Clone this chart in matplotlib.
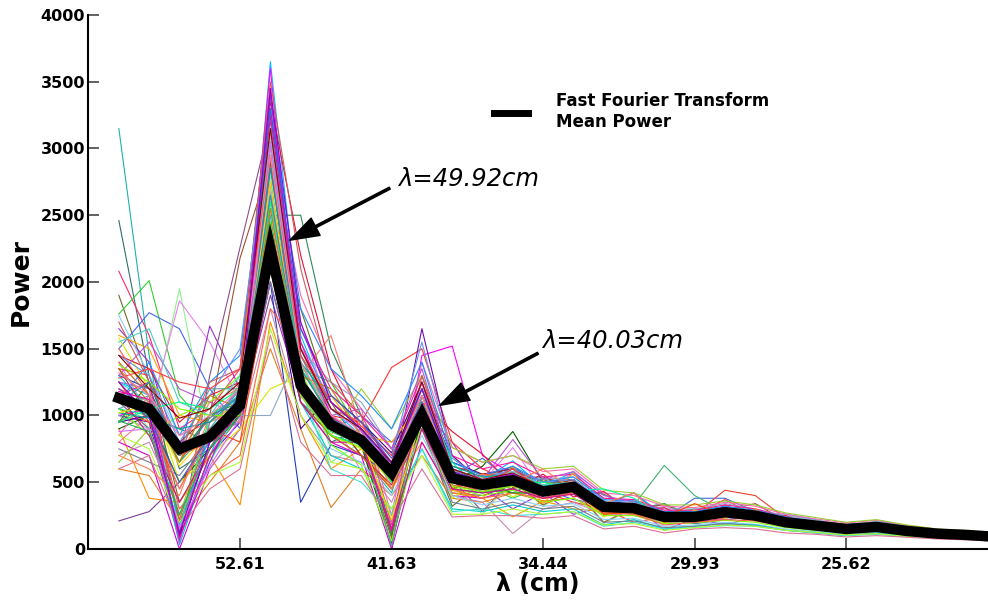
import numpy as np
import matplotlib
matplotlib.use("Agg")
import matplotlib.pyplot as plt
from matplotlib.lines import Line2D

# Wavelength tick labels (cm) placed every fifth frequency bin
tick_bins = [4, 9, 14, 19, 24]
tick_labels = ["52.61", "41.63", "34.44", "29.93", "25.62"]

# Mean FFT power over all recordings
mean_power = [1130, 1050, 750, 840, 1075, 2250, 1225, 930, 815, 570,
              1005, 530, 480, 515, 430, 465, 315, 305, 240, 240,
              275, 250, 200, 175, 150, 165, 135, 115, 105, 90]

# Individual FFT power spectra
s01 = [3150, 1450, 120, 900, 1200, 3300, 1500, 1000, 700, 420, 1150, 600, 420, 560, 400, 480, 300, 330, 250, 230, 300, 260, 210, 180, 150, 170, 140, 110, 100, 85]
s02 = [2460, 1300, 600, 750, 1150, 2900, 1300, 800, 900, 150, 1050, 450, 520, 620, 460, 500, 360, 270, 210, 280, 250, 220, 180, 200, 170, 150, 120, 130, 115, 100]
s03 = [2080, 1600, 900, 1050, 1350, 3450, 1400, 950, 820, 600, 1250, 500, 430, 480, 380, 420, 280, 340, 270, 200, 230, 290, 220, 160, 130, 180, 160, 105, 90, 80]
s04 = [1900, 1250, 350, 700, 1000, 2600, 1800, 1100, 750, 650, 900, 320, 500, 450, 520, 440, 260, 300, 200, 260, 300, 210, 230, 150, 160, 190, 120, 100, 120, 75]
s05 = [1760, 2010, 1150, 900, 1000, 2400, 1350, 1250, 850, 200, 1100, 700, 480, 380, 470, 520, 350, 290, 260, 300, 310, 230, 190, 170, 140, 160, 150, 125, 100, 95]
s06 = [1500, 1770, 1650, 1200, 900, 2100, 1100, 900, 1000, 800, 950, 550, 680, 500, 450, 370, 330, 420, 230, 380, 380, 280, 170, 190, 180, 140, 125, 115, 110, 85]
s07 = [1200, 900, 1950, 800, 1300, 2800, 1250, 650, 800, 250, 1000, 480, 260, 520, 320, 450, 190, 310, 250, 210, 240, 260, 210, 140, 140, 170, 130, 110, 95, 90]
s08 = [1400, 1000, 1860, 1550, 1100, 3100, 1700, 1000, 580, 500, 1200, 560, 500, 760, 430, 570, 410, 280, 320, 250, 260, 270, 190, 180, 150, 200, 145, 120, 100, 80]
s09 = [210, 280, 500, 800, 1000, 1900, 1150, 850, 700, 450, 900, 420, 400, 480, 400, 430, 290, 280, 220, 230, 260, 240, 200, 170, 145, 160, 130, 115, 100, 88]
s10 = [1650, 1400, 700, 1670, 1200, 2700, 1300, 900, 850, 600, 1050, 800, 460, 300, 420, 260, 320, 330, 140, 230, 180, 240, 220, 190, 150, 175, 135, 110, 105, 95]
s11 = [1100, 900, 60, 1300, 2260, 3200, 1450, 1000, 800, 550, 1000, 520, 280, 530, 540, 470, 340, 300, 250, 220, 270, 260, 200, 175, 165, 155, 140, 120, 105, 90]
s12 = [950, 1100, 650, 1000, 2180, 2900, 1250, 950, 780, 80, 1100, 550, 470, 500, 330, 450, 200, 310, 330, 250, 290, 340, 210, 160, 150, 160, 130, 110, 100, 85]
s13 = [1250, 1150, 180, 850, 1050, 3650, 1600, 1050, 850, 600, 1200, 600, 520, 660, 460, 580, 330, 420, 250, 270, 290, 260, 260, 220, 160, 210, 170, 140, 125, 110]
s14 = [1000, 1050, 800, 850, 1150, 3600, 1300, 900, 850, 120, 1450, 1520, 700, 560, 450, 480, 320, 320, 250, 240, 280, 250, 210, 175, 150, 165, 140, 115, 105, 88]
s15 = [900, 380, 350, 700, 330, 1700, 1000, 600, 750, 450, 800, 420, 380, 240, 360, 300, 280, 270, 210, 210, 250, 230, 190, 160, 140, 150, 125, 105, 95, 80]
s16 = [1300, 1200, 700, 900, 1000, 2000, 350, 780, 700, 550, 900, 450, 420, 480, 400, 440, 290, 290, 230, 190, 220, 240, 200, 165, 120, 160, 110, 110, 90, 85]
s17 = [1100, 1000, 900, 800, 1050, 2500, 2500, 1500, 1000, 600, 1000, 500, 450, 420, 530, 460, 410, 300, 340, 240, 270, 250, 200, 175, 150, 165, 135, 115, 105, 90]
s18 = [600, 550, 200, 500, 800, 1500, 900, 310, 600, 400, 700, 380, 350, 420, 360, 380, 270, 260, 200, 210, 240, 220, 180, 155, 135, 150, 120, 100, 95, 80]
s19 = [1350, 1300, 700, 800, 1150, 2200, 1250, 1000, 950, 1360, 1500, 800, 600, 500, 430, 350, 300, 200, 240, 260, 370, 250, 200, 175, 150, 165, 135, 115, 105, 90]
s20 = [800, 700, 0, 600, 900, 2000, 1100, 800, 700, 0, 800, 400, 380, 450, 380, 420, 290, 280, 220, 230, 260, 230, 190, 165, 145, 155, 125, 108, 98, 82]
s21 = [1000, 950, 90, 700, 950, 2300, 1200, 900, 800, 500, 1650, 700, 500, 600, 440, 470, 320, 310, 240, 250, 280, 250, 210, 175, 150, 165, 135, 115, 105, 90]
s22 = [900, 1000, 500, 750, 1000, 2100, 1100, 850, 780, 30, 1000, 500, 620, 880, 500, 520, 330, 300, 240, 240, 270, 250, 200, 170, 150, 165, 135, 115, 105, 90]
s23 = [700, 800, 300, 600, 900, 1800, 1000, 700, 650, 350, 900, 400, 350, 116, 300, 350, 260, 250, 200, 210, 240, 220, 180, 155, 140, 150, 120, 100, 95, 80]
s24 = [1150, 1050, 650, 900, 1050, 2300, 1200, 900, 800, 550, 1000, 520, 470, 500, 430, 470, 320, 330, 626, 400, 280, 260, 200, 175, 150, 165, 135, 115, 105, 90]
s25 = [1050, 950, 750, 850, 1100, 2400, 1250, 950, 820, 580, 1050, 540, 490, 520, 440, 460, 310, 300, 250, 260, 440, 400, 230, 180, 150, 170, 140, 115, 105, 90]
s26 = [1580, 1200, 500, 700, 900, 1200, 1300, 850, 750, 500, 950, 380, 540, 390, 510, 440, 240, 350, 190, 280, 230, 290, 170, 205, 120, 190, 110, 130, 85, 100]
s27 = [1000, 900, 750, 850, 1000, 1000, 1500, 1250, 1100, 750, 1200, 650, 550, 580, 520, 540, 380, 360, 300, 300, 340, 300, 250, 215, 185, 205, 165, 140, 125, 110]
s28 = [1750, 1300, 850, 1000, 1150, 2700, 1350, 750, 650, 400, 850, 400, 330, 380, 320, 340, 220, 230, 170, 180, 200, 185, 150, 130, 110, 125, 100, 85, 78, 65]
s29 = [1200, 1100, 700, 1100, 1200, 2600, 1300, 1600, 900, 500, 1050, 600, 420, 610, 380, 520, 260, 350, 280, 200, 300, 220, 230, 160, 170, 150, 150, 105, 115, 80]
s30 = [850, 1150, 850, 950, 1050, 3000, 1900, 1350, 1050, 250, 1400, 760, 650, 700, 580, 600, 420, 400, 320, 310, 350, 320, 260, 225, 195, 215, 175, 148, 135, 115]
s31 = [1300, 1050, 30, 700, 1200, 2500, 1100, 700, 600, 300, 750, 300, 280, 330, 280, 300, 180, 220, 150, 170, 190, 180, 140, 125, 100, 120, 95, 82, 75, 62]
s32 = [1450, 1350, 950, 1150, 1250, 3350, 2200, 1350, 880, 620, 1100, 880, 710, 460, 560, 390, 430, 270, 310, 200, 330, 220, 250, 160, 185, 150, 160, 105, 120, 82]
s33 = [750, 650, 550, 850, 950, 2000, 1150, 900, 850, 650, 950, 350, 300, 350, 300, 320, 200, 210, 160, 170, 190, 175, 140, 120, 105, 115, 95, 82, 72, 62]
s34 = [1150, 1250, 200, 750, 1100, 2850, 1650, 1200, 1000, 750, 1300, 700, 600, 650, 540, 560, 380, 370, 290, 290, 330, 300, 240, 205, 175, 195, 160, 135, 122, 105]
s35 = [1050, 850, 1000, 1100, 1300, 3150, 1350, 780, 630, 60, 950, 460, 400, 440, 350, 380, 250, 250, 190, 195, 215, 200, 160, 140, 120, 135, 108, 92, 84, 72]
s36 = [950, 1000, 100, 800, 1000, 2200, 900, 1150, 950, 720, 1250, 650, 560, 600, 500, 520, 350, 340, 270, 280, 310, 280, 230, 195, 168, 185, 150, 128, 116, 98]
s37 = [1600, 1500, 1000, 950, 1100, 2750, 1300, 1150, 850, 800, 1100, 440, 380, 620, 340, 570, 260, 360, 200, 290, 235, 300, 175, 210, 130, 195, 120, 135, 92, 105]
s38 = [1250, 1100, 250, 650, 1050, 3050, 1200, 600, 500, 260, 750, 280, 300, 250, 260, 280, 170, 200, 150, 160, 175, 170, 140, 120, 100, 110, 92, 80, 72, 64]
s39 = [1350, 1000, 800, 1000, 1150, 2450, 1250, 1000, 700, 480, 1000, 620, 560, 600, 460, 520, 340, 320, 260, 230, 300, 260, 215, 190, 160, 175, 142, 120, 110, 94]
s40 = [650, 900, 250, 950, 1100, 2650, 1200, 850, 1200, 900, 1300, 760, 650, 700, 600, 620, 440, 420, 330, 330, 360, 330, 270, 235, 200, 220, 180, 150, 138, 116]
s41 = [1500, 1150, 300, 550, 700, 1800, 1500, 1100, 900, 650, 1200, 450, 380, 420, 380, 420, 280, 260, 180, 200, 220, 210, 170, 150, 120, 140, 110, 95, 88, 75]
s42 = [1100, 1400, 850, 1250, 1450, 3300, 1800, 1350, 1150, 900, 1400, 650, 550, 620, 500, 540, 370, 360, 280, 280, 320, 290, 240, 205, 180, 195, 160, 135, 122, 105]
s43 = [850, 750, 200, 550, 650, 1650, 1000, 650, 600, 300, 700, 260, 260, 300, 260, 280, 180, 190, 140, 160, 180, 170, 140, 125, 105, 115, 95, 82, 75, 65]
s44 = [1300, 1550, 1200, 1100, 1000, 2950, 1200, 1000, 1050, 750, 1350, 600, 520, 820, 520, 580, 400, 350, 260, 270, 300, 270, 220, 195, 170, 180, 150, 125, 112, 98]
s45 = [1700, 1250, 700, 1250, 1350, 3500, 2100, 1250, 1000, 180, 1300, 580, 460, 520, 480, 500, 340, 330, 250, 260, 290, 270, 220, 185, 160, 175, 145, 122, 112, 96]
s46 = [1050, 1000, 150, 1000, 1150, 2650, 1250, 850, 780, 620, 1200, 650, 420, 480, 400, 440, 450, 380, 220, 220, 260, 260, 190, 170, 140, 160, 125, 108, 100, 85]
s47 = [1250, 950, 450, 900, 800, 2100, 1400, 950, 820, 520, 1000, 450, 560, 540, 460, 480, 260, 280, 240, 340, 250, 230, 200, 170, 160, 165, 140, 110, 102, 88]
s48 = [1450, 1300, 800, 1150, 1500, 3250, 1550, 1100, 900, 700, 1550, 680, 520, 600, 500, 520, 360, 350, 270, 260, 300, 280, 230, 200, 170, 185, 152, 128, 116, 98]
s49 = [600, 700, 150, 450, 600, 1600, 800, 550, 550, 200, 600, 240, 250, 250, 230, 250, 150, 170, 120, 150, 160, 150, 120, 110, 90, 100, 88, 75, 68, 58]
s50 = [950, 1250, 700, 1000, 1100, 2950, 1350, 1000, 850, 100, 1150, 600, 500, 420, 420, 470, 320, 300, 250, 250, 280, 250, 210, 180, 150, 170, 140, 118, 106, 90]
s51 = [1200, 1050, 80, 650, 1150, 3400, 1500, 1050, 950, 650, 1100, 520, 470, 540, 440, 470, 310, 310, 240, 240, 270, 240, 205, 175, 148, 165, 136, 116, 104, 88]
s52 = [800, 1000, 450, 850, 1250, 2550, 1150, 900, 800, 550, 1250, 560, 480, 520, 440, 470, 320, 300, 240, 240, 270, 250, 200, 175, 150, 165, 135, 115, 105, 90]
s53 = [1050, 1150, 750, 1200, 1200, 3150, 1450, 1000, 850, 20, 1150, 580, 500, 540, 460, 480, 330, 320, 250, 250, 285, 255, 210, 180, 155, 170, 140, 118, 108, 92]
s54 = [1400, 1150, 220, 900, 1000, 2350, 1100, 850, 700, 450, 950, 480, 430, 470, 400, 430, 290, 290, 225, 235, 260, 240, 195, 170, 145, 160, 130, 112, 100, 86]
s55 = [700, 600, 400, 1000, 950, 2250, 1500, 1050, 950, 450, 1100, 500, 560, 500, 600, 440, 340, 420, 200, 240, 250, 290, 200, 160, 150, 150, 135, 110, 95, 95]
s56 = [1550, 1650, 1100, 1000, 1300, 3050, 1350, 1050, 900, 650, 1200, 600, 520, 580, 480, 500, 340, 330, 260, 260, 290, 270, 220, 190, 160, 175, 145, 122, 112, 95]
s57 = [1150, 850, 350, 750, 1050, 2200, 1100, 800, 800, 140, 900, 450, 420, 450, 380, 410, 280, 280, 220, 220, 250, 230, 190, 165, 140, 155, 128, 108, 98, 84]
s58 = [1250, 1200, 40, 950, 1200, 2750, 1250, 900, 820, 560, 1050, 520, 470, 510, 430, 460, 310, 300, 240, 240, 270, 250, 200, 175, 150, 165, 135, 115, 105, 90]
s59 = [950, 1050, 1100, 1050, 1200, 2600, 1400, 950, 800, 500, 1050, 560, 520, 480, 500, 440, 300, 320, 250, 240, 260, 260, 210, 180, 150, 170, 140, 115, 105, 88]
s60 = [1350, 1100, 650, 1150, 1050, 2550, 1300, 1200, 850, 620, 1000, 550, 490, 560, 420, 480, 330, 300, 230, 250, 280, 240, 205, 170, 145, 160, 130, 112, 100, 85]
s61 = [1180, 1120, 80, 700, 1050, 3250, 1550, 1000, 820, 150, 1100, 560, 500, 540, 450, 480, 330, 320, 250, 250, 280, 255, 205, 178, 150, 168, 138, 116, 106, 90]
s62 = [1020, 980, 900, 950, 1150, 2850, 1400, 1100, 900, 600, 1150, 620, 540, 560, 470, 500, 340, 330, 260, 260, 290, 265, 215, 185, 158, 172, 142, 120, 110, 94]
s63 = [1380, 1250, 1050, 1000, 1000, 2450, 1150, 850, 760, 520, 980, 470, 430, 470, 400, 430, 290, 280, 220, 225, 255, 235, 190, 165, 142, 155, 128, 108, 98, 84]
s64 = [880, 900, 160, 620, 980, 3050, 1500, 1050, 880, 620, 1250, 600, 520, 560, 460, 490, 320, 310, 245, 250, 280, 258, 208, 180, 152, 168, 138, 117, 107, 91]
s65 = [1280, 1350, 1250, 1200, 1350, 2950, 1450, 1100, 920, 700, 1150, 540, 480, 600, 440, 470, 310, 330, 260, 255, 290, 262, 215, 182, 156, 172, 141, 120, 109, 93]
s66 = [1160, 980, 500, 850, 1150, 3300, 1650, 1150, 950, 680, 1200, 580, 500, 540, 450, 480, 330, 320, 245, 248, 278, 255, 205, 176, 150, 166, 136, 116, 106, 90]
s67 = [1020, 1080, 620, 880, 1100, 2750, 1280, 960, 830, 220, 1000, 510, 460, 500, 420, 455, 305, 300, 238, 240, 272, 248, 200, 174, 149, 164, 134, 114, 104, 89]
s68 = [1450, 1200, 980, 1050, 1250, 3150, 1500, 1050, 900, 650, 1250, 600, 520, 570, 460, 490, 330, 320, 250, 250, 285, 262, 212, 182, 156, 170, 140, 118, 108, 92]
s69 = [960, 880, 260, 760, 1000, 2400, 1200, 880, 780, 560, 1050, 500, 450, 500, 420, 450, 300, 295, 232, 236, 266, 244, 198, 172, 146, 160, 132, 112, 102, 88]
s70 = [1320, 1150, 850, 1000, 1200, 2950, 1400, 1000, 860, 620, 1150, 560, 500, 540, 450, 480, 320, 312, 248, 248, 280, 256, 206, 178, 152, 168, 138, 116, 106, 90]
s71 = [1100, 1250, 700, 980, 1150, 2650, 1350, 980, 850, 580, 1100, 540, 480, 520, 440, 470, 312, 306, 242, 244, 276, 252, 202, 176, 150, 166, 136, 115, 105, 89]
s72 = [1250, 1000, 120, 800, 1050, 3450, 1700, 1100, 900, 640, 1200, 580, 510, 560, 455, 485, 325, 318, 250, 250, 282, 258, 208, 180, 154, 168, 139, 117, 107, 91]

spectra = [s01, s02, s03, s04, s05, s06, s07, s08, s09, s10,
           s11, s12, s13, s14, s15, s16, s17, s18, s19, s20,
           s21, s22, s23, s24, s25, s26, s27, s28, s29, s30,
           s31, s32, s33, s34, s35, s36, s37, s38, s39, s40,
           s41, s42, s43, s44, s45, s46, s47, s48, s49, s50,
           s51, s52, s53, s54, s55, s56, s57, s58, s59, s60,
           s61, s62, s63, s64, s65, s66, s67, s68, s69, s70,
           s71, s72]

line_colors = ['#20b2aa', '#2f6f6f', '#ff2a6d', '#6b6b2a', '#33cc33', '#4169e1', '#90ee90', '#ee82ee',
               '#7b3f9e', '#9932cc', '#8b4f8b', '#a0522d', '#00bfff', '#ff00ff', '#ff8c00', '#1f3fbf',
               '#2e8b57', '#e67e22', '#ff3030', '#d400d4', '#6a0dad', '#006400', '#c48bb0', '#3cb371',
               '#e8432e', '#d4e800', '#8fa8c8', '#87cefa', '#fa8072', '#ff69b4', '#00ced1', '#dc143c',
               '#708090', '#ff1493', '#7fff00', '#4b0082', '#ffa500', '#40e0d0', '#b22222', '#9acd32',
               '#ff6347', '#1e90ff', '#adff2f', '#ba55d3', '#cd5c5c', '#00fa9a', '#ff4500', '#6495ed',
               '#db7093', '#228b22', '#8a2be2', '#f08080', '#5f9ea0', '#d2691e', '#ff7f50', '#48d1cc',
               '#c71585', '#9370db', '#00ff7f', '#b8860b', '#ff00aa', '#00a0a0', '#7cfc00', '#e066ff',
               '#ff4040', '#3a5fcd', '#ffd700', '#8b0000', '#20b050', '#ff82ab', '#4682b4', '#9400d3']

plt.rcParams['font.family'] = ['DejaVu Sans']

fig = plt.figure(figsize=(9.88, 6.05), dpi=100)
ax = fig.add_axes([0.089, 0.0926, 0.911, 0.8826])

bins = np.arange(len(mean_power))
for spec, col in zip(spectra, line_colors):
    ax.plot(bins, spec, color=col, lw=0.8, zorder=2)

ax.plot(bins, mean_power, color='black', lw=7.5, solid_joinstyle='miter', zorder=5)

ax.set_xlim(-1.02, 28.68)
ax.set_ylim(0, 4000)
ax.set_yticks(np.arange(0, 4001, 500))
ax.set_xticks(tick_bins)
ax.set_xticklabels(tick_labels)

for side in ('top', 'right'):
    ax.spines[side].set_visible(False)
for side in ('left', 'bottom'):
    ax.spines[side].set_linewidth(1.5)
ax.tick_params(direction='in', length=8, width=1.3, color='#555555', labelsize=11.5)
ax.tick_params(axis='x', pad=6)
ax.tick_params(axis='y', pad=2)
for lab in ax.get_xticklabels() + ax.get_yticklabels():
    lab.set_fontweight('bold')

ax.set_ylabel('Power', fontsize=18, fontweight='bold', labelpad=6)
ax.set_xlabel('λ (cm)', fontsize=17, fontweight='bold', labelpad=0)

# Peak annotations
ax.text(9.21, 2718, 'λ=49.92cm', fontsize=17.5, style='italic', va='baseline', ha='left')
ax.annotate('', xy=(5.64, 2313), xytext=(8.94, 2703),
            arrowprops=dict(facecolor='black', edgecolor='black', width=1.6,
                            headwidth=14, headlength=21, shrink=0))
ax.text(13.96, 1503, 'λ=40.03cm', fontsize=17.5, style='italic', va='baseline', ha='left')
ax.annotate('', xy=(10.59, 1076), xytext=(13.83, 1466),
            arrowprops=dict(facecolor='black', edgecolor='black', width=1.6,
                            headwidth=14, headlength=21, shrink=0))

proxy = Line2D([], [], color='black', lw=5)
leg = ax.legend([proxy], ['Fast Fourier Transform\nMean Power'], loc='upper left',
                bbox_to_anchor=(0.435, 0.884), frameon=False, handlelength=2.0,
                handletextpad=1.7, prop=dict(weight='bold', size=12))

fig.savefig('out.png', dpi=100)
